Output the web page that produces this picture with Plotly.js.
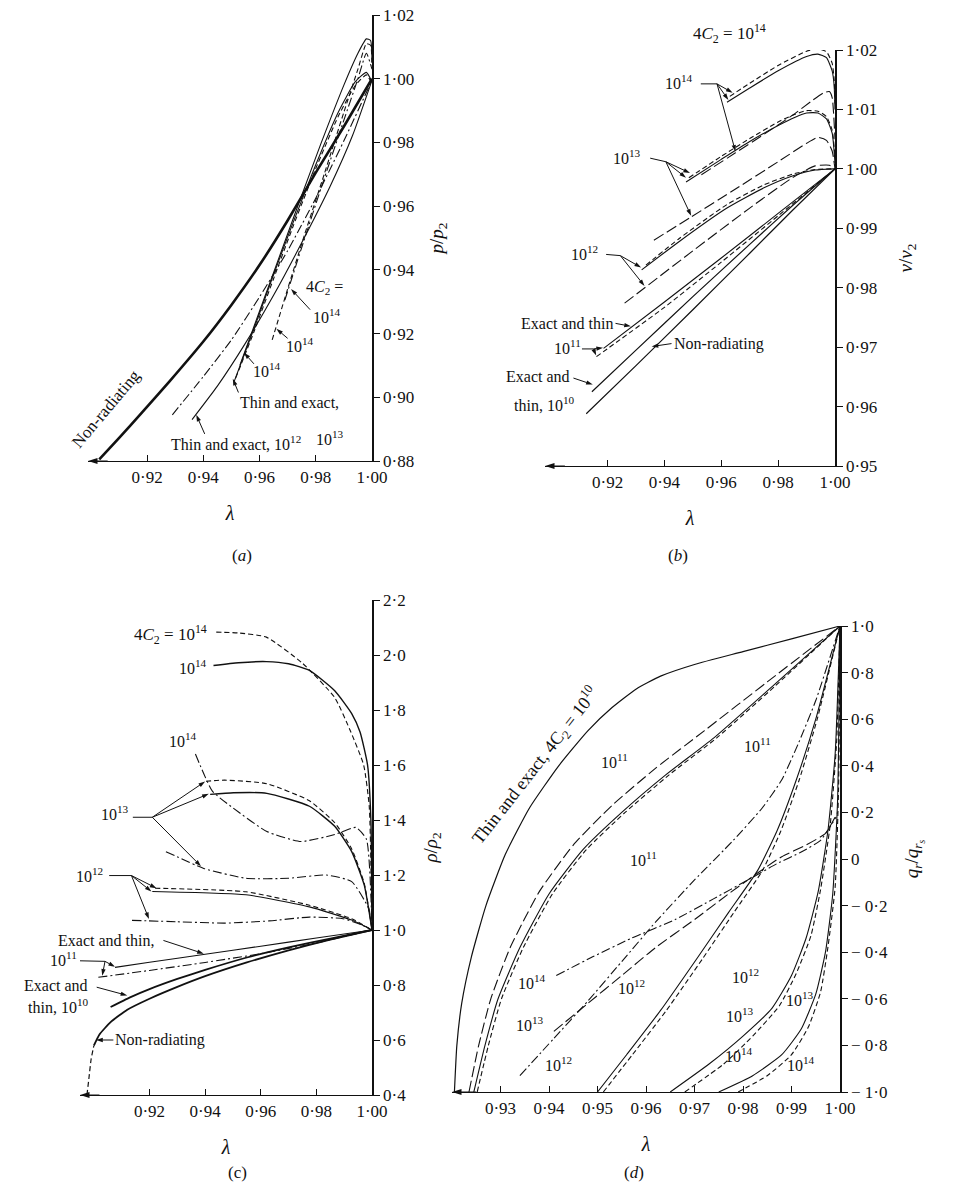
<!DOCTYPE html>
<html><head><meta charset="utf-8">
<script src="https://cdn.plot.ly/plotly-3.0.1.min.js"></script>
<style>html,body{margin:0;padding:0;background:#fff}#chart{width:957px;height:1198px}</style>
</head><body><div id="chart"></div>
<script>
// ---------------- panel (a): p/p2 ----------------
const a_xticks = [0.92,0.94,0.96,0.98,1.00];
const a_xtext  = ['0·92','0·94','0·96','0·98','1·00'];
const a_yticks = [0.88,0.90,0.92,0.94,0.96,0.98,1.00,1.02];
const a_ytext  = ['0·88','0·90','0·92','0·94','0·96','0·98','1·00','1·02'];
const a_nr_lam  = [0.903,0.910,0.918,0.928,0.940,0.950,0.960,0.970,0.980,0.990,1.000];
const a_nr_p    = [0.8805,0.8872,0.8950,0.9050,0.9175,0.9290,0.9415,0.9555,0.9705,0.9850,1.000];
const a_d12_lam = [0.929,0.940,0.950,0.960,0.970,0.980,0.990,1.000];
const a_d12_p   = [0.8945,0.9065,0.9180,0.9315,0.9460,0.9625,0.9805,0.9995];
const a_te12_lam= [0.936,0.945,0.955,0.965,0.975,0.985,0.993,1.000];
const a_te12_p  = [0.8930,0.9035,0.9170,0.9320,0.9485,0.9660,0.9820,0.9995];
const a_e13_lam = [0.951,0.958,0.965,0.972,0.980,0.988,0.994,0.998,1.000];
const a_e13_p   = [0.9050,0.9215,0.9385,0.9550,0.9730,0.9895,0.9990,1.0020,0.9990];
const a_t13_lam = [0.9515,0.958,0.965,0.972,0.980,0.988,0.994,0.998,1.000];
const a_t13_p   = [0.9060,0.9205,0.9372,0.9538,0.9718,0.9882,0.9978,1.0012,0.9985];
const a_e14_lam = [0.953,0.960,0.967,0.974,0.982,0.990,0.995,0.998,0.9995,1.000];
const a_e14_p   = [0.9100,0.9270,0.9440,0.9610,0.9800,0.9980,1.0080,1.0125,1.0120,1.0050];
const a_t14_lam = [0.9645,0.970,0.976,0.983,0.990,0.995,0.998,0.9995,1.000];
const a_t14_p   = [0.9180,0.9340,0.9510,0.9700,0.9895,1.0030,1.0110,1.0105,1.0040];
const a_d14_lam = [0.969,0.975,0.982,0.990,0.995,0.998,1.000];
const a_d14_p   = [0.9305,0.9470,0.9660,0.9870,1.0000,1.0080,1.0030];

// ---------------- panel (b): v/v2 ----------------
const b_xticks = [0.92,0.94,0.96,0.98,1.00];
const b_xtext  = ['0·92','0·94','0·96','0·98','1·00'];
const b_yticks = [0.95,0.96,0.97,0.98,0.99,1.00,1.01,1.02];
const b_ytext  = ['0·95','0·96','0·97','0·98','0·99','1·00','1·01','1·02'];
const b_nr_lam  = [0.9125,0.930,0.950,0.970,0.985,1.000];
const b_nr_v    = [0.9588,0.9669,0.9763,0.9858,0.9930,1.000];
const b_et10_lam= [0.9145,0.930,0.950,0.970,0.985,1.000];
const b_et10_v  = [0.9625,0.9695,0.9785,0.9873,0.9938,1.000];
const b_e11_lam = [0.9186,0.940,0.960,0.980,1.000];
const b_e11_v   = [0.9698,0.9776,0.9850,0.9925,1.000];
const b_t11_lam = [0.9161,0.940,0.960,0.980,1.000];
const b_t11_v   = [0.9684,0.9767,0.9843,0.9921,1.000];
const b_d12_lam = [0.926,0.950,0.970,0.985,0.993,0.998,1.000];
const b_d12_v   = [0.9774,0.9862,0.9934,0.9985,1.0005,1.0006,1.000];
const b_e12_lam = [0.932,0.945,0.962,0.975,0.985,0.993,1.000];
const b_e12_v   = [0.9830,0.9877,0.9934,0.9968,0.9988,0.9998,1.000];
const b_t12_lam = [0.9335,0.945,0.962,0.975,0.985,0.993,1.000];
const b_t12_v   = [0.9838,0.9882,0.9940,0.9973,0.9991,0.9999,1.000];
const b_d13_lam = [0.9363,0.9494,0.965,0.980,0.990,0.994,0.997,0.999,1.000];
const b_d13_v   = [0.9880,0.9919,0.9966,1.0012,1.0043,1.0053,1.0048,1.0030,1.000];
const b_e13_lam = [0.9476,0.960,0.970,0.980,0.986,0.990,0.994,0.997,0.999,1.000];
const b_e13_v   = [0.9978,1.0016,1.0046,1.0073,1.0087,1.0094,1.0094,1.0084,1.0060,1.0010];
const b_t13_lam = [0.9486,0.960,0.970,0.980,0.986,0.990,0.994,0.997,0.999,1.000];
const b_t13_v   = [0.9985,1.0021,1.0051,1.0079,1.0092,1.0098,1.0097,1.0088,1.0065,1.0020];
const b_d14_lam = [0.953,0.965,0.975,0.985,0.992,0.996,0.998,0.999,1.000];
const b_d14_v   = [0.9990,1.0027,1.0058,1.0090,1.0115,1.0128,1.0130,1.0120,1.0050];
const b_e14_lam = [0.962,0.970,0.980,0.990,0.994,0.997,0.999,0.9997,1.000];
const b_e14_v   = [1.0112,1.0136,1.0165,1.0189,1.0193,1.0187,1.0165,1.0140,1.0100];
const b_t14_lam = [0.963,0.970,0.980,0.990,0.994,0.997,0.999,0.9997,1.000];
const b_t14_v   = [1.0122,1.0144,1.0174,1.0198,1.0202,1.0197,1.0178,1.0150,1.0110];

// ---------------- panel (c): rho/rho2 ----------------
const c_xticks = [0.92,0.94,0.96,0.98,1.00];
const c_xtext  = ['0·92','0·94','0·96','0·98','1·00'];
const c_yticks = [0.4,0.6,0.8,1.0,1.2,1.4,1.6,1.8,2.0,2.2];
const c_ytext  = ['0·4','0·6','0·8','1·0','1·2','1·4','1·6','1·8','2·0','2·2'];
const c_nrd_lam = [0.8975,0.8982,0.8990,0.9000];
const c_nrd_r   = [0.40,0.46,0.53,0.58];
const c_nr_lam  = [0.9000,0.9020,0.9060,0.9120,0.9200,0.9300,0.9400,0.9550,0.9700,0.9850,1.000];
const c_nr_r    = [0.58,0.62,0.665,0.71,0.75,0.793,0.832,0.882,0.926,0.965,1.000];
const c_et10_lam= [0.906,0.913,0.920,0.930,0.940,0.955,0.970,0.985,1.000];
const c_et10_r  = [0.720,0.755,0.785,0.822,0.855,0.900,0.937,0.969,1.000];
const c_d11_lam = [0.9016,0.920,0.940,0.960,0.980,1.000];
const c_d11_r   = [0.828,0.853,0.882,0.914,0.953,1.000];
const c_e11_lam = [0.9076,0.920,0.940,0.960,0.980,1.000];
const c_e11_r   = [0.864,0.8825,0.912,0.941,0.971,1.000];
const c_d12_lam = [0.9137,0.930,0.9471,0.963,0.9775,0.9896,0.996,1.000];
const c_d12_r   = [1.035,1.030,1.025,1.033,1.047,1.041,1.020,1.000];
const c_e12_lam = [0.921,0.9547,0.9775,0.9927,1.000];
const c_e12_r   = [1.140,1.128,1.084,1.036,1.000];
const c_t12_lam = [0.922,0.9547,0.9775,0.9927,1.000];
const c_t12_r   = [1.152,1.139,1.090,1.041,1.000];
const c_d13_lam = [0.9259,0.9395,0.9547,0.9699,0.9836,0.9927,0.9988,1.000];
const c_d13_r   = [1.285,1.224,1.188,1.188,1.200,1.176,1.078,1.000];
const c_e13_lam = [0.9418,0.9502,0.9622,0.9775,0.9866,0.9927,0.9972,1.000];
const c_e13_r   = [1.493,1.499,1.497,1.450,1.377,1.285,1.164,1.000];
const c_t13_lam = [0.9403,0.947,0.9622,0.9775,0.9866,0.9927,0.9972,1.000];
const c_t13_r   = [1.541,1.545,1.532,1.470,1.390,1.295,1.170,1.000];
const c_d14_lam = [0.9365,0.9426,0.950,0.9622,0.9744,0.9866,0.9942,0.998,1.000];
const c_d14_r   = [1.640,1.505,1.444,1.358,1.322,1.347,1.373,1.330,1.000];
const c_e14_lam = [0.943,0.952,0.962,0.970,0.9775,0.9866,0.9927,0.9957,0.9984,0.9996,1.000];
const c_e14_r   = [1.962,1.972,1.976,1.968,1.944,1.870,1.787,1.720,1.600,1.400,1.000];
const c_t14_lam = [0.944,0.952,0.962,0.975,0.9866,0.9924,0.997,0.999,1.000];
const c_t14_r   = [2.083,2.080,2.065,1.970,1.845,1.720,1.600,1.450,1.000];

// ---------------- panel (d): qr/qrs ----------------
const d_xticks = [0.93,0.94,0.95,0.96,0.97,0.98,0.99,1.00];
const d_xtext  = ['0·93','0·94','0·95','0·96','0·97','0·98','0·99','1·00'];
const d_yticks = [-1,-0.8,-0.6,-0.4,-0.2,0,0.2,0.4,0.6,0.8,1.0];
const d_ytext  = ['\u2212 1·0','\u2212 0·8','\u2212 0·6','\u2212 0·4','\u2212 0·2','0','0·2','0·4','0·6','0·8','1·0'];
const d_te10_lam= [0.9205,0.9210,0.9220,0.9240,0.9270,0.9310,0.9360,0.9420,0.9480,0.9530,0.9580,0.9630,0.9700,0.9800,0.9900,1.000];
const d_te10_q  = [-1.00,-0.80,-0.62,-0.42,-0.20,0.02,0.22,0.40,0.55,0.65,0.73,0.785,0.835,0.89,0.945,1.00];
const d_t11a_lam= [0.9235,0.9255,0.9280,0.9320,0.9380,0.9450,0.9530,0.9620,0.9720,0.9850,1.000];
const d_t11a_q  = [-1.00,-0.80,-0.60,-0.38,-0.14,0.06,0.23,0.39,0.55,0.76,1.00];
const d_e11_lam = [0.9245,0.9268,0.9295,0.9340,0.9400,0.9470,0.9550,0.9640,0.9740,0.9860,1.000];
const d_e11_q   = [-1.00,-0.80,-0.60,-0.38,-0.15,0.04,0.20,0.36,0.52,0.74,1.00];
const d_t11b_lam= [0.9252,0.9275,0.9302,0.9347,0.9407,0.9477,0.9557,0.9647,0.9746,0.9865,1.000];
const d_t11b_q  = [-1.00,-0.80,-0.60,-0.38,-0.15,0.04,0.20,0.36,0.52,0.74,1.00];
const d_d11_lam = [0.934,0.941,0.948,0.955,0.962,0.970,0.978,0.984,0.988,0.9915,0.995,1.000];
const d_d11_q   = [-0.93,-0.77,-0.61,-0.44,-0.27,-0.09,0.08,0.22,0.34,0.50,0.68,1.00];
const d_e12_lam = [0.950,0.956,0.963,0.9704,0.977,0.983,0.987,0.991,0.995,1.000];
const d_e12_q   = [-1.00,-0.84,-0.65,-0.43,-0.23,-0.05,0.12,0.34,0.60,1.00];
const d_t12_lam = [0.9512,0.9572,0.9642,0.9716,0.9781,0.9840,0.9878,0.9916,0.9953,1.000];
const d_t12_q   = [-1.00,-0.84,-0.65,-0.43,-0.23,-0.05,0.12,0.34,0.60,1.00];
const d_d13_lam = [0.941,0.948,0.955,0.962,0.970,0.977,0.983,0.988,0.993,0.997,0.9995];
const d_d13_q   = [-0.74,-0.62,-0.50,-0.38,-0.26,-0.15,-0.06,0.01,0.06,0.11,0.20];
const d_d14_lam = [0.9415,0.949,0.957,0.966,0.974,0.981,0.987,0.992,0.996,0.9992];
const d_d14_q   = [-0.50,-0.42,-0.34,-0.26,-0.17,-0.09,-0.02,0.03,0.08,0.18];
const d_e13_lam = [0.965,0.973,0.980,0.986,0.990,0.993,0.9955,0.9975,0.999,1.000];
const d_e13_q   = [-1.00,-0.88,-0.76,-0.64,-0.50,-0.34,-0.14,0.12,0.45,1.00];
const d_t13_lam = [0.968,0.976,0.982,0.9875,0.991,0.994,0.996,0.998,0.9993,1.000];
const d_t13_q   = [-1.00,-0.88,-0.76,-0.63,-0.49,-0.33,-0.13,0.15,0.50,1.00];
const d_e14_lam = [0.975,0.982,0.988,0.992,0.995,0.997,0.9985,0.9995,1.000];
const d_e14_q   = [-1.00,-0.93,-0.84,-0.73,-0.58,-0.40,-0.15,0.25,1.00];
const d_t14_lam = [0.979,0.985,0.990,0.9935,0.996,0.9975,0.999,0.9997,1.000];
const d_t14_q   = [-1.00,-0.93,-0.84,-0.72,-0.57,-0.38,-0.12,0.30,1.00];

// ---------------- drawing ----------------
const FONT = 'Liberation Serif, DejaVu Serif, serif';
const INK = '#111';
const SOLID = 'solid', DASH = '5px,3px', DOTDASH = '9px,3px,2px,3px', LDASH = '11px,4px';
const W = 957, H = 1198;

const PAN = {
  a:{px:[88,372,15,461],  xr:[0.899,1.0], yr:[0.88,1.02], xa:'x',  ya:'y'},
  b:{px:[545,835,50,466], xr:[0.898,1.0], yr:[0.95,1.02], xa:'x2', ya:'y2'},
  c:{px:[80,372,600,1095],xr:[0.895,1.0], yr:[0.4,2.2],   xa:'x3', ya:'y3'},
  d:{px:[452,840,626,1092],xr:[0.92,1.0], yr:[-1.0,1.0],  xa:'x4', ya:'y4'}
};

function tr(x, y, k, dash, w) {
  return {type:'scatter', mode:'lines', x:x, y:y, xaxis:PAN[k].xa, yaxis:PAN[k].ya, hoverinfo:'skip',
    line:{color:INK, width:w || 1.1, dash:dash || SOLID, shape:'spline', smoothing:0.5}};
}
function ar(k, x0, y0, x1, y1, size) {
  return {type:'scatter', mode:'lines+markers', x:[x0,x1], y:[y0,y1], xaxis:PAN[k].xa, yaxis:PAN[k].ya,
    hoverinfo:'skip', cliponaxis:false, line:{color:INK, width:1},
    marker:{symbol:'arrow', size:size || 7, angleref:'previous', color:INK, line:{width:0}}};
}
function ld(k, x0, y0, x1, y1) {
  return {type:'scatter', mode:'lines', x:[x0,x1], y:[y0,y1], xaxis:PAN[k].xa, yaxis:PAN[k].ya,
    hoverinfo:'skip', cliponaxis:false, line:{color:INK, width:1}};
}

const traces = [
  tr(a_nr_lam,a_nr_p,'a',SOLID,2.6), tr(a_d12_lam,a_d12_p,'a',DOTDASH), tr(a_te12_lam,a_te12_p,'a',SOLID),
  tr(a_e13_lam,a_e13_p,'a',SOLID), tr(a_t13_lam,a_t13_p,'a',DASH),
  tr(a_e14_lam,a_e14_p,'a',SOLID), tr(a_t14_lam,a_t14_p,'a',DASH), tr(a_d14_lam,a_d14_p,'a',DOTDASH),

  tr(b_nr_lam,b_nr_v,'b',SOLID,1.2), tr(b_et10_lam,b_et10_v,'b',SOLID,1.2),
  tr(b_e11_lam,b_e11_v,'b',SOLID), tr(b_t11_lam,b_t11_v,'b',DASH),
  tr(b_d12_lam,b_d12_v,'b',LDASH), tr(b_e12_lam,b_e12_v,'b',SOLID), tr(b_t12_lam,b_t12_v,'b',DASH),
  tr(b_d13_lam,b_d13_v,'b',LDASH), tr(b_e13_lam,b_e13_v,'b',SOLID), tr(b_t13_lam,b_t13_v,'b',DASH),
  tr(b_d14_lam,b_d14_v,'b',LDASH), tr(b_e14_lam,b_e14_v,'b',SOLID), tr(b_t14_lam,b_t14_v,'b',DASH),

  tr(c_nrd_lam,c_nrd_r,'c',DASH,1.2), tr(c_nr_lam,c_nr_r,'c',SOLID,1.8), tr(c_et10_lam,c_et10_r,'c',SOLID,1.8),
  tr(c_d11_lam,c_d11_r,'c',DOTDASH), tr(c_e11_lam,c_e11_r,'c',SOLID),
  tr(c_d12_lam,c_d12_r,'c',DOTDASH), tr(c_e12_lam,c_e12_r,'c',SOLID), tr(c_t12_lam,c_t12_r,'c',DASH),
  tr(c_d13_lam,c_d13_r,'c',DOTDASH), tr(c_e13_lam,c_e13_r,'c',SOLID,1.4), tr(c_t13_lam,c_t13_r,'c',DASH),
  tr(c_d14_lam,c_d14_r,'c',DOTDASH), tr(c_e14_lam,c_e14_r,'c',SOLID,1.4), tr(c_t14_lam,c_t14_r,'c',DASH),

  tr(d_te10_lam,d_te10_q,'d',SOLID,1.2), tr(d_t11a_lam,d_t11a_q,'d',LDASH),
  tr(d_e11_lam,d_e11_q,'d',SOLID), tr(d_t11b_lam,d_t11b_q,'d',DASH), tr(d_d11_lam,d_d11_q,'d',DOTDASH),
  tr(d_e12_lam,d_e12_q,'d',SOLID), tr(d_t12_lam,d_t12_q,'d',DASH),
  tr(d_d13_lam,d_d13_q,'d',LDASH), tr(d_e13_lam,d_e13_q,'d',SOLID), tr(d_t13_lam,d_t13_q,'d',DASH),
  tr(d_d14_lam,d_d14_q,'d',DOTDASH), tr(d_e14_lam,d_e14_q,'d',SOLID), tr(d_t14_lam,d_t14_q,'d',DASH),

  // axis arrows pointing left
  ar('a',0.906,0.88,0.899,0.88,10), ar('b',0.905,0.95,0.898,0.95,10),
  ar('c',0.902,0.4,0.895,0.4,10),   ar('d',0.925,-1.0,0.92,-1.0,10),

  // (a) pointer arrows
  ar('a',0.9405,0.8885,0.9375,0.8945), ar('a',0.9525,0.9015,0.9505,0.9058),
  ar('a',0.9580,0.9105,0.9545,0.9140), ar('a',0.9700,0.9185,0.9660,0.9215),
  ar('a',0.9780,0.9275,0.9712,0.9340),

  // (b) pointer arrows
  ld('b',0.9528,1.0143,0.9585,1.0143),
  ar('b',0.9585,1.0143,0.9625,1.0116), ar('b',0.9585,1.0143,0.9640,1.0128), ar('b',0.9585,1.0143,0.9650,1.0029),
  ld('b',0.9350,1.0018,0.9405,1.0012),
  ar('b',0.9405,1.0012,0.9476,0.9985), ar('b',0.9405,1.0012,0.9490,0.9993), ar('b',0.9405,1.0012,0.9494,0.9921),
  ld('b',0.9195,0.9856,0.9245,0.9854),
  ar('b',0.9245,0.9854,0.9318,0.9834), ar('b',0.9245,0.9854,0.9330,0.9803),
  ar('b',0.9228,0.9740,0.9282,0.9735),
  ld('b',0.9110,0.9697,0.9150,0.9697),
  ar('b',0.9150,0.9697,0.9184,0.9699), ar('b',0.9150,0.9697,0.9160,0.9686),
  ar('b',0.9080,0.9648,0.9148,0.9637),
  ar('b',0.9425,0.9706,0.9355,0.9701),

  // (c) pointer arrows
  ld('c',0.9140,1.410,0.9210,1.410),
  ar('c',0.9210,1.410,0.9400,1.540), ar('c',0.9210,1.410,0.9413,1.495), ar('c',0.9210,1.410,0.9385,1.232),
  ld('c',0.9055,1.198,0.9135,1.198),
  ar('c',0.9135,1.198,0.9225,1.152), ar('c',0.9135,1.198,0.9207,1.140), ar('c',0.9135,1.198,0.9198,1.040),
  ar('c',0.9250,0.962,0.9395,0.914),
  ld('c',0.8950,0.888,0.9040,0.886),
  ar('c',0.9040,0.886,0.9076,0.866), ar('c',0.9040,0.886,0.9030,0.834),
  ar('c',0.9010,0.792,0.9120,0.762),
  ar('c',0.9070,0.600,0.9008,0.600)
];

const dx = p => [p[0]/W, p[1]/W];
const dy = p => [1 - p[3]/H, 1 - p[2]/H];

function xax(k, vals, text) {
  const P = PAN[k];
  return {domain:dx(P.px), range:P.xr, anchor:P.ya, tickmode:'array', tickvals:vals, ticktext:text,
    ticks:'inside', ticklen:6, tickwidth:1, tickcolor:INK, showline:true, linecolor:INK, linewidth:1.4,
    showgrid:false, zeroline:false, automargin:false,
    tickfont:{family:FONT, size:17, color:INK},
    title:{text:'<i>λ</i>', font:{family:FONT, size:20, color:INK}, standoff:20}};
}
function yax(k, vals, text, title, standoff) {
  const P = PAN[k];
  return {domain:dy(P.px), range:P.yr, anchor:P.xa, side:'right', tickmode:'array', tickvals:vals, ticktext:text,
    ticks:'outside', ticklen:6, tickwidth:1, tickcolor:INK, showline:true, linecolor:INK, linewidth:1.6,
    showgrid:false, zeroline:false, automargin:false,
    tickfont:{family:FONT, size:17, color:INK},
    title:{text:title, font:{family:FONT, size:19, color:INK}, standoff:standoff}};
}

function lab(k, lam, val, t, o) {
  const P = PAN[k], px = P.px;
  const x = (px[0] + (lam - P.xr[0]) / (P.xr[1] - P.xr[0]) * (px[1] - px[0])) / W;
  const y = 1 - (px[3] - (val - P.yr[0]) / (P.yr[1] - P.yr[0]) * (px[3] - px[2])) / H;
  return Object.assign({xref:'paper', yref:'paper', x:x, y:y, text:t, showarrow:false,
    font:{family:FONT, size:16, color:INK}, xanchor:'center', yanchor:'middle'}, o || {});
}

const ann = [
  {xref:'paper', yref:'paper', x:230/W, y:1-556/H, text:'(<i>a</i>)', showarrow:false, font:{family:FONT,size:17,color:INK}},
  {xref:'paper', yref:'paper', x:690/W, y:1-556/H, text:'(<i>b</i>)', showarrow:false, font:{family:FONT,size:17,color:INK}},
  {xref:'paper', yref:'paper', x:226/W, y:1-1184/H, text:'(c)', showarrow:false, font:{family:FONT,size:17,color:INK}},
  {xref:'paper', yref:'paper', x:646/W, y:1-1184/H, text:'(<i>d</i>)', showarrow:false, font:{family:FONT,size:17,color:INK}},

  // ---- (a)
  lab('a',0.9055,0.8965,'Non-radiating',{textangle:-50, font:{family:FONT,size:17,color:INK}}),
  lab('a',0.9515,0.8855,'Thin and exact, 10<sup>12</sup>'),
  lab('a',0.9705,0.8985,'Thin and exact,'),
  lab('a',0.9850,0.8872,'10<sup>13</sup>'),
  lab('a',0.9625,0.9085,'10<sup>14</sup>'),
  lab('a',0.9745,0.9165,'10<sup>14</sup>'),
  lab('a',0.9830,0.9345,'4<i>C</i><sub>2</sub> ='),
  lab('a',0.9840,0.9255,'10<sup>14</sup>'),

  // ---- (b)
  lab('b',0.963,1.0228,'4<i>C</i><sub>2</sub> = 10<sup>14</sup>',{font:{family:FONT,size:17,color:INK}}),
  lab('b',0.945,1.0146,'10<sup>14</sup>'),
  lab('b',0.927,1.0020,'10<sup>13</sup>'),
  lab('b',0.912,0.9858,'10<sup>12</sup>'),
  lab('b',0.9225,0.9740,'Exact and thin',{xanchor:'right'}),
  lab('b',0.9060,0.9700,'10<sup>11</sup>'),
  lab('b',0.9075,0.9650,'Exact and',{xanchor:'right'}),
  lab('b',0.9090,0.9605,'thin, 10<sup>10</sup>',{xanchor:'right'}),
  lab('b',0.9425,0.9706,'Non-radiating',{xanchor:'left'}),

  // ---- (c)
  lab('c',0.9415,2.075,'4<i>C</i><sub>2</sub> = 10<sup>14</sup>',{xanchor:'right', font:{family:FONT,size:17,color:INK}}),
  lab('c',0.9415,1.958,'10<sup>14</sup>',{xanchor:'right'}),
  lab('c',0.932,1.690,'10<sup>14</sup>'),
  lab('c',0.9075,1.425,'10<sup>13</sup>'),
  lab('c',0.8985,1.200,'10<sup>12</sup>'),
  lab('c',0.9225,0.962,'Exact and thin,',{xanchor:'right'}),
  lab('c',0.8890,0.895,'10<sup>11</sup>'),
  lab('c',0.8985,0.798,'Exact and',{xanchor:'right'}),
  lab('c',0.8985,0.722,'thin, 10<sup>10</sup>',{xanchor:'right'}),
  lab('c',0.9070,0.600,'Non-radiating',{xanchor:'left'}),

  // ---- (d)
  lab('d',0.9372,0.40,'Thin and exact, 4C<sub>2</sub> = 10<sup>10</sup>',{textangle:-52, font:{family:FONT,size:18,color:INK}}),
  lab('d',0.9535,0.42,'10<sup>11</sup>'),
  lab('d',0.9595,0.00,'10<sup>11</sup>'),
  lab('d',0.9830,0.49,'10<sup>11</sup>'),
  lab('d',0.9365,-0.53,'10<sup>14</sup>'),
  lab('d',0.9360,-0.71,'10<sup>13</sup>'),
  lab('d',0.9420,-0.88,'10<sup>12</sup>'),
  lab('d',0.9570,-0.55,'10<sup>12</sup>'),
  lab('d',0.9806,-0.50,'10<sup>12</sup>'),
  lab('d',0.9794,-0.67,'10<sup>13</sup>'),
  lab('d',0.9917,-0.60,'10<sup>13</sup>'),
  lab('d',0.9791,-0.84,'10<sup>14</sup>'),
  lab('d',0.9919,-0.88,'10<sup>14</sup>')
];

const layout = {
  width:W, height:H, margin:{l:0,r:0,t:0,b:0}, paper_bgcolor:'#fff', plot_bgcolor:'rgba(0,0,0,0)',
  showlegend:false, font:{family:FONT, size:16, color:INK},
  xaxis:  xax('a',a_xticks,a_xtext),
  yaxis:  yax('a',a_yticks,a_ytext,'<i>p</i>/<i>p</i><sub>2</sub>',16),
  xaxis2: xax('b',b_xticks,b_xtext),
  yaxis2: yax('b',b_yticks,b_ytext,'<i>v</i>/<i>v</i><sub>2</sub>',22),
  xaxis3: xax('c',c_xticks,c_xtext),
  yaxis3: yax('c',c_yticks,c_ytext,'<i>ρ</i>/<i>ρ</i><sub>2</sub>',18),
  xaxis4: xax('d',d_xticks,d_xtext),
  yaxis4: yax('d',d_yticks,d_ytext,'<i>q<sub>r</sub></i>/<i>q<sub>r<sub>s</sub></sub></i>',18),
  annotations: ann
};
Plotly.newPlot('chart', traces, layout, {staticPlot:true, displayModeBar:false});
</script></body></html>
